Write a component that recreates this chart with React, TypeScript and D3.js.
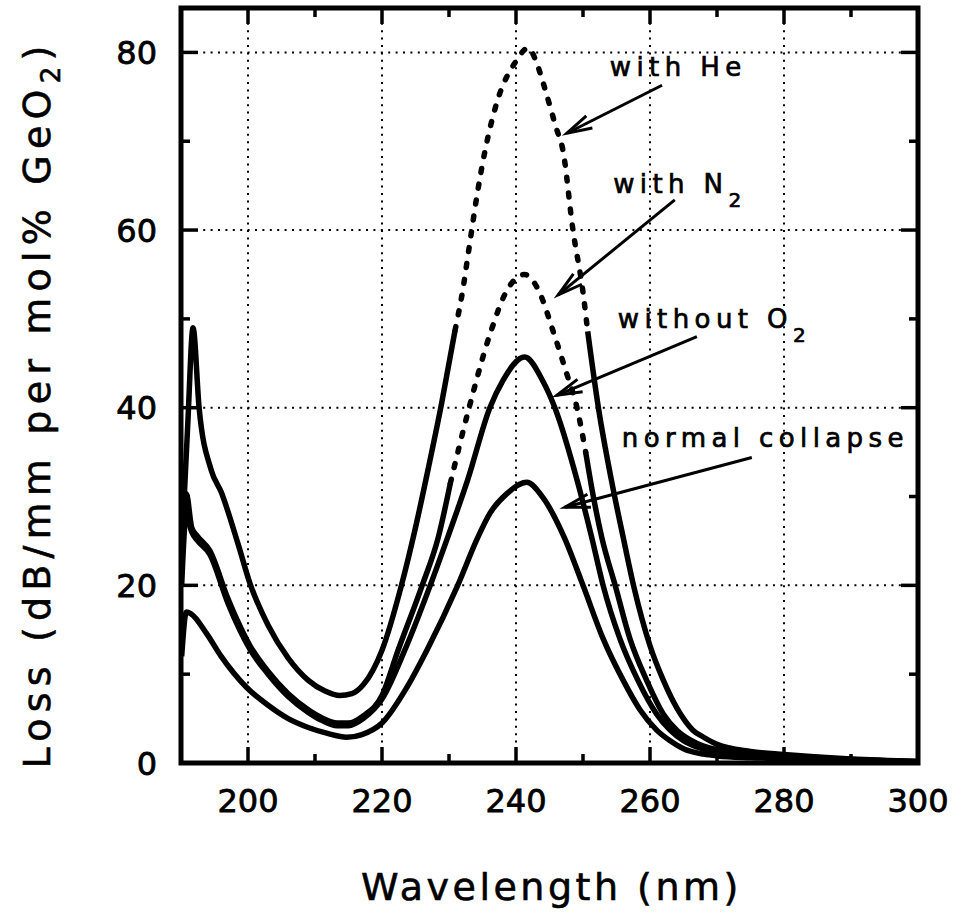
import React from "react";
import * as d3 from "d3";

const WIDTH = 957;
const HEIGHT = 918;
const MARGIN = { top: 8, right: 39, bottom: 155, left: 181 };

const xMajorTicks = [200, 220, 240, 260, 280, 300];
const xMinorTicks = [200, 210, 220, 230, 240, 250, 260, 270, 280, 290];
const yMajorTicks = [0, 20, 40, 60, 80];
const yMinorTicks = [10, 20, 30, 40, 50, 60, 70, 80];

// [wavelength nm, loss dB/mm per mol% GeO2]
const withHe: [number, number][] = [
  [190.1, 24], [191, 38], [191.8, 49], [192.7, 40], [194.5, 33], [196, 30.5],
  [198.5, 24.7], [200.3, 20.2], [203, 15.5], [206, 11.8], [209, 9.3], [211.5, 8.1],
  [213.7, 7.6], [215.5, 7.8], [217.2, 8.8], [220, 12.7], [222.9, 20], [225, 26.5],
  [227, 33.5], [228.9, 40.5], [230.9, 48.7], [232, 53], [233, 58], [234.2, 64],
  [235.4, 69], [237.2, 74.5], [240, 79], [241.8, 80.5], [243, 79], [244, 76.7],
  [246, 71.5], [247, 69], [248.5, 60], [250, 53], [250.7, 48.6], [252.3, 40],
  [254.2, 32], [256, 25.4], [257.6, 19.8], [260, 13.2], [262, 9.3], [264, 6.2],
  [266.4, 3.7], [268, 2.9], [270, 2.1], [275, 1.3], [280, 0.95], [290, 0.45], [300, 0.2],
];

const withN2: [number, number][] = [
  [190.1, 22], [190.8, 30.3], [191.6, 26.5], [192.5, 25.5], [194.3, 23.9], [197, 18.5],
  [200.3, 13.2], [203, 10.3], [206, 7.8], [209, 6], [211, 5.1], [213.3, 4.5],
  [215, 4.5], [217.2, 5.3], [220, 7.6], [222.4, 12.7], [226, 20], [228.4, 25.4],
  [230.2, 31.5], [233, 40], [236.3, 48.7], [238.5, 53], [241.3, 55], [243.5, 53],
  [245.5, 48.7], [247.5, 44], [249.1, 40], [250.4, 35], [251.3, 31], [252.8, 25.4],
  [254.8, 20], [257, 14], [259.5, 9.3], [262, 5.5], [264, 3.7], [266, 2.6],
  [268, 1.9], [270, 1.5], [275, 1.1], [280, 0.85], [290, 0.4], [300, 0.15],
];

const withoutO2: [number, number][] = [
  [190.1, 20], [190.8, 28], [191.6, 26], [192.5, 25], [194.3, 23.5], [197, 18],
  [200.3, 12.8], [203, 10], [206, 7.5], [209, 5.7], [211, 4.8], [213.3, 4.2],
  [215, 4.2], [217.2, 5.0], [220, 7.2], [223.4, 12.7], [227.2, 20], [229.8, 25.4],
  [232.8, 31.9], [236.1, 40], [238, 43], [241.3, 45.7], [244, 43], [245.8, 40],
  [249.1, 31.9], [251.3, 25.4], [253, 20], [255.5, 14], [258.2, 9.3], [261, 5.5],
  [263, 3.7], [265, 2.5], [267, 1.8], [270, 1.2], [275, 0.9], [280, 0.7], [290, 0.35], [300, 0.15],
];

const normalCollapse: [number, number][] = [
  [190.1, 12], [190.8, 17], [191.5, 16.8], [193.8, 14.6], [196, 12], [199.8, 8.5],
  [203, 6.5], [206, 5], [209, 4], [212, 3.3], [214.7, 2.9], [217, 3.2],
  [220, 4.5], [223.7, 8.5], [226.7, 12.7], [231.3, 20], [234.3, 25.4], [236.1, 28.1],
  [238.6, 30.3], [241.6, 31.6], [244, 29.9], [247.2, 25.4], [250, 20], [253, 14],
  [256, 9.3], [258.5, 6], [261, 3.7], [263, 2.5], [265, 1.6], [268, 1.0],
  [270, 0.8], [275, 0.6], [280, 0.5], [290, 0.3], [300, 0.1],
];

const curves = [withHe, withN2, withoutO2, normalCollapse];
// wavelength span drawn dashed for each curve (null = all solid)
const dashedSpans: ([number, number] | null)[] = [[230.9, 250.7], [230.2, 250.4], null, null];

// annotation labels: main text, subscript, start wavelength, baseline loss
const labelTexts = ["with He", "with N", "without O", "normal collapse"];
const labelSubs = ["", "2", "2", ""];
const labelAnchors: [number, number][] = [[254.0, 77.4], [254.5, 64.2], [255.2, 49.0], [255.8, 35.6]];
const arrowTails: [number, number][] = [[261.8, 76.3], [263.7, 63.4], [267.0, 48.0], [275.2, 34.4]];
const arrowHeads: [number, number][] = [[247.6, 70.9], [246.3, 52.7], [246.1, 41.4], [247.3, 28.8]];

const FONT = "'DejaVu Sans', 'Liberation Sans', sans-serif";

function splitCurve(pts: [number, number][], span: [number, number] | null) {
  if (!span) return [{ pts, dashed: false }];
  const [a, b] = span;
  return [
    { pts: pts.filter((p) => p[0] <= a), dashed: false },
    { pts: pts.filter((p) => p[0] >= a && p[0] <= b), dashed: true },
    { pts: pts.filter((p) => p[0] >= b), dashed: false },
  ];
}

export default function App() {
  const left = MARGIN.left;
  const right = WIDTH - MARGIN.right;
  const top = MARGIN.top;
  const bottom = HEIGHT - MARGIN.bottom;

  const x = d3.scaleLinear().domain([190, 300]).range([left, right]);
  const y = d3.scaleLinear().domain([0, 85]).range([bottom, top]);

  const line = d3
    .line<[number, number]>()
    .x((d) => x(d[0]))
    .y((d) => y(d[1]))
    .curve(d3.curveMonotoneX);

  const arrowHead = (tail: [number, number], head: [number, number]) => {
    const hx = x(head[0]);
    const hy = y(head[1]);
    const ang = Math.atan2(y(tail[1]) - hy, x(tail[0]) - hx);
    const len = 26;
    const spread = (15 * Math.PI) / 180;
    const p1 = [hx + len * Math.cos(ang + spread), hy + len * Math.sin(ang + spread)];
    const p2 = [hx + len * Math.cos(ang - spread), hy + len * Math.sin(ang - spread)];
    return `M${p1[0]},${p1[1]}L${hx},${hy}L${p2[0]},${p2[1]}`;
  };

  return (
    <svg
      width={WIDTH}
      height={HEIGHT}
      style={{ position: "absolute", left: 0, top: 0, background: "#fff" }}
    >
      {/* grid */}
      <g stroke="#000" strokeWidth={2} strokeDasharray="2 5.4">
        {xMajorTicks
          .filter((t) => t < 300)
          .map((t) => (
            <line key={`gx${t}`} x1={x(t)} x2={x(t)} y1={top} y2={bottom} />
          ))}
        {yMajorTicks
          .filter((t) => t > 0)
          .map((t) => (
            <line key={`gy${t}`} x1={left} x2={right} y1={y(t)} y2={y(t)} />
          ))}
      </g>

      {/* curves */}
      <g fill="none" stroke="#000">
        {curves.map((c, i) =>
          splitCurve(c, dashedSpans[i]).map((seg, j) => (
            <path
              key={`c${i}-${j}`}
              d={line(seg.pts) || ""}
              strokeWidth={5.5}
              strokeDasharray={seg.dashed ? "4 12" : undefined}
              strokeLinecap={seg.dashed ? "round" : "butt"}
              strokeLinejoin="round"
            />
          ))
        )}
      </g>

      {/* ticks */}
      <g stroke="#000" strokeWidth={3.5}>
        {xMinorTicks.map((t) => {
          const len = t % 20 === 0 ? 16 : 9;
          return (
            <g key={`tx${t}`}>
              <line x1={x(t)} x2={x(t)} y1={bottom} y2={bottom - len} />
              <line x1={x(t)} x2={x(t)} y1={top} y2={top + len} />
            </g>
          );
        })}
        {yMinorTicks.map((t) => {
          const len = t % 20 === 0 ? 17 : 9;
          return (
            <g key={`ty${t}`}>
              <line x1={left} x2={left + len} y1={y(t)} y2={y(t)} />
              <line x1={right} x2={right - len} y1={y(t)} y2={y(t)} />
            </g>
          );
        })}
      </g>

      {/* frame */}
      <rect
        x={left}
        y={top}
        width={right - left}
        height={bottom - top}
        fill="none"
        stroke="#000"
        strokeWidth={5}
      />

      {/* tick labels */}
      <g fontFamily={FONT} fontSize={32} fill="#000" stroke="#000" strokeWidth={0.8}>
        {xMajorTicks.map((t) => (
          <text key={`lx${t}`} x={x(t)} y={bottom + 49} textAnchor="middle">
            {t}
          </text>
        ))}
        {yMajorTicks.map((t) => (
          <text key={`ly${t}`} x={left - 24} y={y(t) + 11.5} textAnchor="end">
            {t}
          </text>
        ))}
      </g>

      {/* axis titles */}
      <g fontFamily={FONT} fontSize={38} fill="#000" stroke="#000" strokeWidth={0.6}>
        <text x={(left + right) / 2 + 2} y={900} textAnchor="middle" letterSpacing={3.5}>
          Wavelength (nm)
        </text>
        <text
          transform={`translate(50, ${404}) rotate(-90)`}
          textAnchor="middle"
          letterSpacing={6.2}
        >
          Loss (dB/mm per mol% GeO
          <tspan fontSize={26} dy={10}>
            2
          </tspan>
          <tspan dy={-10}>)</tspan>
        </text>
      </g>

      {/* annotations */}
      <g fontFamily={FONT} fontSize={26} letterSpacing={5.4} fill="#000" stroke="#000" strokeWidth={0.7}>
        {labelTexts.map((t, i) => (
          <text key={`an${i}`} x={x(labelAnchors[i][0])} y={y(labelAnchors[i][1])}>
            {t}
            {labelSubs[i] && (
              <tspan fontSize={20} dy={14}>
                {labelSubs[i]}
              </tspan>
            )}
          </text>
        ))}
      </g>
      <g fill="none" stroke="#000" strokeWidth={3}>
        {arrowTails.map((tail, i) => (
          <g key={`ar${i}`}>
            <line
              x1={x(tail[0])}
              y1={y(tail[1])}
              x2={x(arrowHeads[i][0])}
              y2={y(arrowHeads[i][1])}
            />
            <path d={arrowHead(tail, arrowHeads[i])} />
          </g>
        ))}
      </g>
    </svg>
  );
}
